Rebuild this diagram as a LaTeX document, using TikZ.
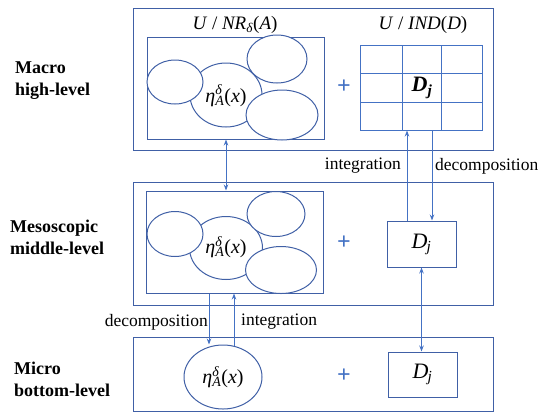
\documentclass[tikz,border=0pt]{standalone}
\usepackage{fontspec}
\setmainfont{Liberation Serif}
\usetikzlibrary{shapes.geometric,arrows.meta}
\definecolor{boxblue}{RGB}{64,96,166}
\definecolor{arrblue}{RGB}{68,114,196}
\newcommand{\etaAd}{\textit{η}\rlap{\textsuperscript{\textit{δ}}}\textsubscript{\textit{A}}(\textit{x})}
\newcommand{\Dsub}{\textit{D}\textsubscript{\kern-1pt\textit{j}}}
\tikzset{
  frame/.style={draw=boxblue, line width=1pt, inner sep=0pt},
  ell/.style={ellipse, draw=boxblue, line width=1pt, fill=white, inner sep=0pt},
  arr/.style={draw=arrblue, line width=1pt},
  lab/.style={inner sep=0pt, font=\fontsize{17.5}{21}\selectfont},
  lvl/.style={inner sep=0pt, anchor=west, align=left, font=\fontsize{18}{22}\selectfont\bfseries},
  plus/.style={inner sep=0pt, text=arrblue, font=\fontsize{24}{24}\selectfont\bfseries}
}
\begin{document}
\begin{tikzpicture}[x=1pt, y=-1pt, >={Stealth[length=6pt,width=4.5pt]}]
        \useasboundingbox (0,0) rectangle (545,413);

        % Level boxes
        \node[frame, minimum width=360, minimum height=142] (macro) at (313,79) {};
        \node[frame, minimum width=360, minimum height=123] (meso) at (313,243.5) {};
        \node[frame, minimum width=360, minimum height=74] (micro) at (313,374) {};

        % Level labels
        \node[lvl] (macrolab) at (15,81) {Macro\\high-level};
        \node[lvl] (mesolab) at (10,237.5) {Mesoscopic\\middle-level};
        \node[lvl] (microlab) at (14,379) {Micro\\bottom-level};

        % Macro: neighbourhood classes
        \node[frame, minimum width=177, minimum height=102] (macroin) at (235.5,88) {};
        \node[lab, font=\fontsize{19}{22}\selectfont] at (235,25) {\textit{U} / \textit{NR}\textsubscript{\textit{δ}}(\textit{A})};
        \node[ell, minimum width=72, minimum height=64] (mc) at (226,95) {};
        \node[ell, minimum width=56, minimum height=44] (ml) at (175,82) {};
        \node[ell, minimum width=60, minimum height=48] (mtr) at (277,59) {};
        \node[ell, minimum width=72, minimum height=50] (mbr) at (282,115) {};
        \node[lab, font=\fontsize{20}{24}\selectfont] at (226,96) {\etaAd};

        % Macro: decision classes grid
        \node[lab, font=\fontsize{19}{22}\selectfont] at (423,25) {\textit{U} / \textit{IND}(\textit{D})};
        \node[frame, draw=arrblue, minimum width=122, minimum height=85] (grid) at (421,87.5) {};
        \draw[arr] (402,45) -- (402,130);
        \draw[arr] (441,45) -- (441,130);
        \draw[arr] (360,73) -- (482,73);
        \draw[arr] (360,102) -- (482,102);
        \node[lab, font=\fontsize{22}{24}\selectfont\bfseries\itshape] at (422,88) {D\textsubscript{j}};
        \node[plus] at (344,87) {+};

        % Meso: neighbourhood classes
        \node[frame, minimum width=177, minimum height=102] (mesoin) at (234.5,242) {};
        \node[ell, minimum width=73, minimum height=63] (mc2) at (226,248) {};
        \node[ell, minimum width=56, minimum height=45] (ml2) at (175,234) {};
        \node[ell, minimum width=58, minimum height=45] (mtr2) at (276,214) {};
        \node[ell, minimum width=71, minimum height=47] (mbr2) at (281,270) {};
        \node[lab, font=\fontsize{20}{24}\selectfont] at (226,247) {\etaAd};
        \node[plus] at (344,243) {+};
        \node[frame, minimum width=69, minimum height=46, font=\fontsize{22}{24}\selectfont] (mdj) at (421.5,244) {\Dsub};

        % Micro
        \node[ell, minimum width=78, minimum height=64, font=\fontsize{20}{24}\selectfont] (mic) at (223,377) {\etaAd};
        \node[plus] at (344,376) {+};
        \node[frame, minimum width=69, minimum height=45, font=\fontsize{22}{24}\selectfont] (udj) at (422.5,374.5) {\Dsub};

        % Macro <-> meso
        \draw[arr, <->] (macroin.south -| mc) -- (mesoin.north -| mc);
        \coordinate (intB) at ([xshift=-14.5pt]mdj.north);
        \coordinate (decB) at ([xshift=10.5pt]mdj.north);
        \draw[arr, ->] (intB) -- (intB |- grid.south);
        \draw[arr, ->] (decB |- grid.south) -- (decB);
        \node[lab, anchor=east] (intlab) at (401,166) {integration};
        \node[lab, anchor=west] (declab) at (435,166) {decomposition};

        % Meso <-> micro
        \coordinate (decM) at ([xshift=-14pt]mic.north);
        \coordinate (intM) at ([xshift=11pt]mic.north);
        \draw[arr, ->] (decM |- mesoin.south) -- (decM);
        \draw[arr, ->] ([yshift=-1pt]intM) -- (intM |- mesoin.south);
        \node[lab, anchor=east] (declab2) at (208,322) {decomposition};
        \node[lab, anchor=west] (intlab2) at (241,322) {integration};
        \draw[arr, <->] (mdj.south) -- (mdj.south |- udj.north);

    \end{tikzpicture}
\end{document}
